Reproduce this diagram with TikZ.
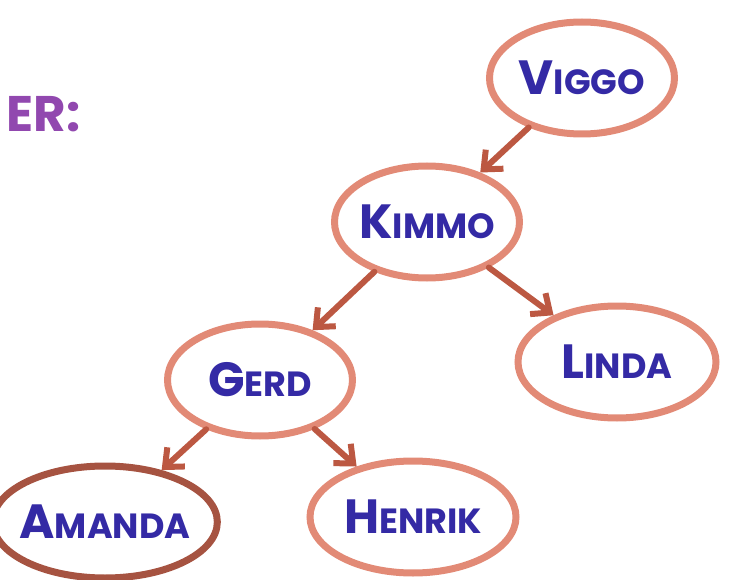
\documentclass[tikz,border=0pt]{standalone}
\usepackage{fontspec}
\setmainfont{Poppins}
\usetikzlibrary{shapes.geometric}
\usetikzlibrary{arrows.meta}
\definecolor{ring}{RGB}{226,138,118}
\definecolor{stem}{RGB}{188,88,66}
\definecolor{ink}{RGB}{52,42,165}
\definecolor{plum}{RGB}{145,72,175}
\newcommand*{\nmcap}[2]{\bfseries{\fontsize{48}{48}\selectfont #1}{\fontsize{35}{35}\selectfont #2}}
\tikzset{
    person/.style = {ellipse, draw=ring, line width=7pt, inner sep=-6pt,
                     minimum width=185pt, minimum height=112pt, text=ink},
    edge/.style   = {draw=stem, line width=6pt, line cap=round,
                     -{Straight Barb[length=15pt,width=26pt,line width=6pt]}}
}

\begin{document}
\begin{tikzpicture}[x=1pt, y=-1pt]
    \useasboundingbox (0,0) rectangle (731,580);
        \node [anchor=east, text=plum] (title) at (84,114) {\bfseries\fontsize{50}{50}\selectfont ER:};
        \node [person] (viggo)  at (582,78)  {\nmcap{V}{IGGO}};
        \node [person] (kimmo)  at (427,222) {\nmcap{K}{IMMO}};
        \node [person] (gerd)   at (260,380) {\nmcap{G}{ERD}};
        \node [person, minimum width=198pt] (linda) at (617,362) {\nmcap{L}{INDA}};
        \node [person, minimum width=198pt, draw=stem!80!ring!85!black] (amanda) at (105,522) {\nmcap{A}{MANDA}};
        \node [person, minimum width=206pt] (henrik) at (413,517) {\nmcap{H}{ENRIK}};
        \draw [edge] (viggo) -- (kimmo);
        \draw [edge] (kimmo) -- (gerd);
        \draw [edge] (kimmo) -- (linda);
        \draw [edge] (gerd)  -- (amanda);
        \draw [edge] (gerd)  -- (henrik);
    \end{tikzpicture}
\end{document}
